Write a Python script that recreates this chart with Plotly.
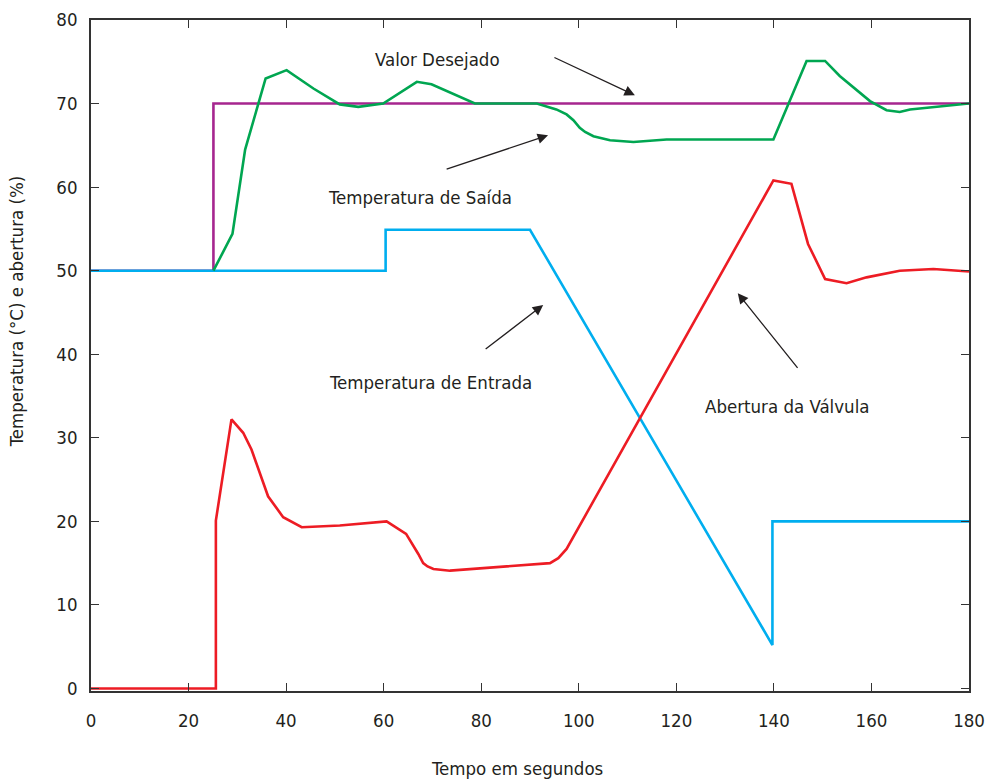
import plotly.graph_objects as go

# ---- data ----
setpoint_x = [0, 25.1, 25.1, 180]
setpoint_y = [50, 50, 70, 70]

inlet_x = [0, 60.4, 60.4, 90.0, 139.7, 139.7, 180]
inlet_y = [50, 50, 54.9, 54.9, 5.2, 20.0, 20.0]

valve_x = [0, 25.6, 25.6, 28.8, 31.2, 32.9, 36.3, 39.4, 43.2, 51.0, 60.6, 64.6,
           67.1, 68.1, 69.0, 70.2, 73.6, 94.1, 95.8, 97.5, 139.9, 143.6, 147.0,
           150.5, 154.9, 159.0, 165.8, 172.7, 180]
valve_y = [0, 0, 20.1, 32.2, 30.6, 28.6, 23.0, 20.5, 19.3, 19.5, 20.0, 18.5,
           16.1, 15.0, 14.6, 14.3, 14.1, 15.0, 15.6, 16.7, 60.8, 60.4, 53.2,
           49.0, 48.5, 49.2, 50.0, 50.2, 49.9]

outlet_x = [25.1, 29.0, 31.6, 32.9, 35.8, 40.1, 45.6, 51.0, 54.8, 59.9, 66.8,
            69.8, 78.7, 84.0, 91.4, 95.4, 97.5, 98.9, 100.2, 101.3, 103.0,
            106.4, 111.2, 118.0, 139.9, 146.7, 150.5, 153.5, 159.7, 163.1,
            165.8, 167.9, 180]
outlet_y = [50.0, 54.4, 64.5, 67.1, 73.0, 74.0, 71.8, 69.9, 69.6, 70.0, 72.6,
            72.3, 70.0, 70.0, 70.0, 69.3, 68.7, 68.0, 67.1, 66.6, 66.1,
            65.6, 65.4, 65.7, 65.7, 75.1, 75.1, 73.3, 70.3, 69.2,
            69.0, 69.3, 70.0]

x_ticks = [0, 20, 40, 60, 80, 100, 120, 140, 160, 180]
y_ticks = [0, 10, 20, 30, 40, 50, 60, 70, 80]

labels = ["Valor Desejado", "Temperatura de Saída",
          "Temperatura de Entrada", "Abertura da Válvula"]
x_title = "Tempo em segundos"
y_title = "Temperatura (°C) e abertura (%)"

FONT = "DejaVu Sans Condensed, Liberation Sans Narrow, Roboto, sans-serif"
TXT = "#231f20"
FS = 18.5

fig = go.Figure()
fig.add_trace(go.Scatter(x=setpoint_x, y=setpoint_y, mode="lines",
                         line=dict(color="#a6268f", width=2.6), name=labels[0]))
fig.add_trace(go.Scatter(x=inlet_x, y=inlet_y, mode="lines",
                         line=dict(color="#00aeef", width=2.6), name=labels[2]))
fig.add_trace(go.Scatter(x=valve_x, y=valve_y, mode="lines",
                         line=dict(color="#ed1c24", width=2.6), name=labels[3]))
fig.add_trace(go.Scatter(x=outlet_x, y=outlet_y, mode="lines",
                         line=dict(color="#00a651", width=2.6), name=labels[1]))

text_pos = [(71.1, 75.3), (67.4, 58.8), (69.5, 36.6), (142.7, 33.8)]
for lab, (tx, ty) in zip(labels, text_pos):
    fig.add_annotation(x=tx, y=ty, text=lab, showarrow=False,
                       font=dict(family=FONT, size=FS, color=TXT))

arrows = [((94.7, 75.6), (111.5, 71.0)),
          ((72.6, 62.1), (93.7, 66.2)),
          ((80.6, 40.5), (92.7, 45.9)),
          ((145.1, 38.2), (132.6, 47.3))]
for (tx, ty), (hx, hy) in arrows:
    fig.add_annotation(x=hx, y=hy, ax=tx, ay=ty, xref="x", yref="y",
                       axref="x", ayref="y", text="", showarrow=True,
                       arrowhead=2, arrowsize=1.6, arrowwidth=1.3,
                       arrowcolor=TXT)

# axis titles (placed as in the reference, slightly off-centre)
fig.add_annotation(x=-0.0854, y=0.566, xref="paper", yref="paper",
                   text=y_title, textangle=-90, showarrow=False,
                   xanchor="center", yanchor="middle",
                   font=dict(family=FONT, size=FS, color=TXT))
fig.add_annotation(x=0.485, y=-0.116, xref="paper", yref="paper",
                   text=x_title, showarrow=False,
                   xanchor="center", yanchor="middle",
                   font=dict(family=FONT, size=FS, color=TXT))

axis_common = dict(showgrid=False, zeroline=False, showline=True,
                   linecolor="#333333", linewidth=1.5, mirror="ticks",
                   ticks="inside", ticklen=8, tickwidth=1.3, tickcolor="#333333",
                   automargin=False,
                   tickfont=dict(family=FONT, size=FS, color=TXT))

fig.update_xaxes(range=[0, 180], tickvals=x_ticks, ticklabelstandoff=12,
                 **axis_common)
fig.update_yaxes(range=[-0.3, 80], tickvals=y_ticks, ticklabelstandoff=8,
                 **axis_common)

fig.update_layout(width=986, height=780, showlegend=False,
                  margin=dict(l=91, r=17, t=20, b=89, autoexpand=False),
                  plot_bgcolor="white", paper_bgcolor="white",
                  font=dict(family=FONT, color=TXT))

fig.write_html("out.html",
               post_script="document.body.style.margin='0';")
